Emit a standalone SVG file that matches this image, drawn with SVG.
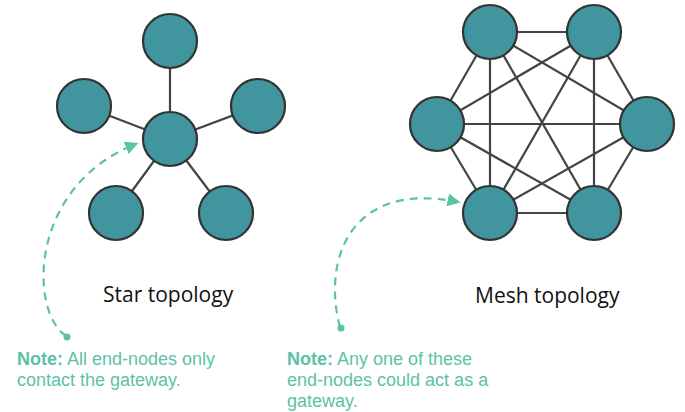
<svg xmlns="http://www.w3.org/2000/svg" width="685" height="412" viewBox="0 0 685 412">
  <style>
    .node { fill: #40959f; stroke: #333; stroke-width: 2.2; }
    .link { stroke: #444; stroke-width: 2.2; fill: none; }
    .note-path { stroke: #5cc2a7; stroke-width: 2.2; fill: none; stroke-dasharray: 8 6; }
    .title { font-family: "Open Sans", "Liberation Sans", sans-serif; font-size: 21px; fill: #111; }
    .note { font-family: "Liberation Sans", Arial, sans-serif; font-size: 18px; fill: #5cc2a7; }
    .note tspan.b { font-weight: bold; }
  </style>
  <defs>
    <marker id="arrow" viewBox="0 0 10 10" refX="8" refY="5" markerWidth="6" markerHeight="6" orient="auto" markerUnits="strokeWidth">
      <path d="M0,0 L10,5 L0,10 z" fill="#5cc2a7"/>
    </marker>
  </defs>
  <rect width="685" height="412" fill="#fff"/>

  <!-- star topology links -->
  <g id="star-links">
    <line class="link" x1="170" y1="139" x2="170" y2="41"/>
    <line class="link" x1="170" y1="139" x2="84" y2="106"/>
    <line class="link" x1="170" y1="139" x2="258" y2="106"/>
    <line class="link" x1="170" y1="139" x2="116" y2="213"/>
    <line class="link" x1="170" y1="139" x2="226" y2="213"/>
  </g>
  <g id="star-hub"><circle class="node" cx="170" cy="139" r="27"/></g>
  <g id="star-top"><circle class="node" cx="170" cy="41" r="27"/></g>
  <g id="star-left"><circle class="node" cx="84" cy="106" r="27"/></g>
  <g id="star-right"><circle class="node" cx="258" cy="106" r="27"/></g>
  <g id="star-bottom-left"><circle class="node" cx="116" cy="213" r="27"/></g>
  <g id="star-bottom-right"><circle class="node" cx="226" cy="213" r="27"/></g>

  <!-- mesh topology links: every pair of nodes -->
  <g id="mesh-links">
    <line class="link" x1="490" y1="32" x2="594" y2="32"/>
    <line class="link" x1="490" y1="32" x2="437" y2="124"/>
    <line class="link" x1="490" y1="32" x2="647" y2="124"/>
    <line class="link" x1="490" y1="32" x2="490" y2="213"/>
    <line class="link" x1="490" y1="32" x2="594" y2="213"/>
    <line class="link" x1="594" y1="32" x2="437" y2="124"/>
    <line class="link" x1="594" y1="32" x2="647" y2="124"/>
    <line class="link" x1="594" y1="32" x2="490" y2="213"/>
    <line class="link" x1="594" y1="32" x2="594" y2="213"/>
    <line class="link" x1="437" y1="124" x2="647" y2="124"/>
    <line class="link" x1="437" y1="124" x2="490" y2="213"/>
    <line class="link" x1="437" y1="124" x2="594" y2="213"/>
    <line class="link" x1="647" y1="124" x2="490" y2="213"/>
    <line class="link" x1="647" y1="124" x2="594" y2="213"/>
    <line class="link" x1="490" y1="213" x2="594" y2="213"/>
  </g>
  <g id="mesh-top-left"><circle class="node" cx="490" cy="32" r="27"/></g>
  <g id="mesh-top-right"><circle class="node" cx="594" cy="32" r="27"/></g>
  <g id="mesh-left"><circle class="node" cx="437" cy="124" r="27"/></g>
  <g id="mesh-right"><circle class="node" cx="647" cy="124" r="27"/></g>
  <g id="mesh-bottom-left"><circle class="node" cx="490" cy="213" r="27"/></g>
  <g id="mesh-bottom-right"><circle class="node" cx="594" cy="213" r="27"/></g>

  <!-- titles -->
  <text class="title" x="103" y="302">Star topology</text>
  <text class="title" x="475" y="303">Mesh topology</text>

  <!-- callouts -->
  <g id="callouts">
    <path class="note-path" d="M66,336 C28,310 30,185 136,144" marker-end="url(#arrow)"/>
    <circle cx="67" cy="337" r="3.5" fill="#5cc2a7"/>
    <path class="note-path" d="M340,327 C322,260 350,180 458,202" marker-end="url(#arrow)"/>
    <circle cx="341" cy="328" r="3.5" fill="#5cc2a7"/>
  </g>

  <!-- notes -->
  <text class="note" x="17" y="365"><tspan class="b">Note:</tspan> All end-nodes only</text>
  <text class="note" x="17" y="386">contact the gateway.</text>
  <text class="note" x="287" y="365"><tspan class="b">Note:</tspan> Any one of these</text>
  <text class="note" x="287" y="386">end-nodes could act as a</text>
  <text class="note" x="287" y="407">gateway.</text>
</svg>
